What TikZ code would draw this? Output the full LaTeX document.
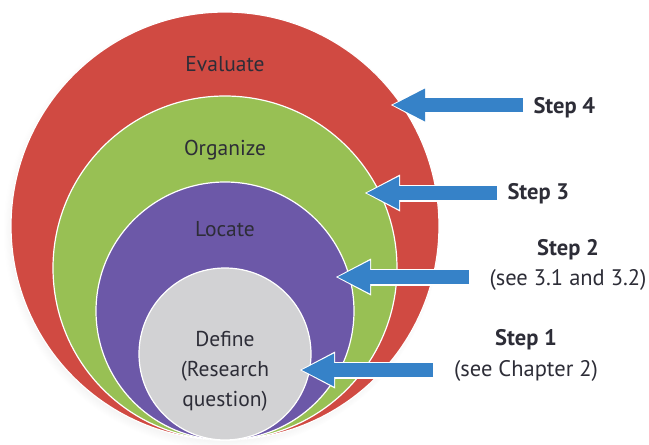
\documentclass[tikz,border=0pt]{standalone}
\usepackage{fontspec}
\setmainfont{PT Sans}
\usetikzlibrary{arrows.meta,shadows}
\tikzset{>=stealth}
\definecolor{evalred}{RGB}{208,74,66}
\definecolor{orggreen}{RGB}{152,192,84}
\definecolor{locpurple}{RGB}{108,88,168}
\definecolor{defgray}{RGB}{210,210,212}
\definecolor{stepblue}{RGB}{54,130,200}
\definecolor{fontdark}{RGB}{45,45,55}

\tikzset{
  ring/.style={circle,draw=white,line width=1.2pt,inner sep=0pt},
  ringtext/.style={anchor=base,text=fontdark,font=\fontsize{21.5}{25}\selectfont},
  steptext/.style={text=fontdark,font=\fontsize{22.5}{26}\selectfont},
  arrowedge/.style={white,line width=17pt,shorten <=-1.5pt,shorten >=-2pt,
    -{Triangle[length=35pt,width=37pt,line width=0pt]}},
  arrowbody/.style={stepblue,line width=14pt,
    -{Triangle[length=32pt,width=33pt,line width=0pt]}}
}

\begin{document}
\begin{tikzpicture}[x=1pt,y=-1pt]
\useasboundingbox (0,0) rectangle (649,445);
% nested circles, all touching at the bottom
\node[ring,fill=evalred,minimum size=428pt,
  circular drop shadow={shadow xshift=-3pt,shadow yshift=-4pt,shadow scale=1.02,opacity=0.3}]
  (evaluate) at (225,226) {};
\node[ring,fill=orggreen,minimum size=344pt] (organize) at (225,268) {};
\node[ring,fill=locpurple,minimum size=258pt] (locate) at (225,311) {};
\node[ring,fill=defgray,minimum size=172pt] (define) at (225,354) {};

\node[ringtext] (evaltext) at (225,71) {Evaluate};
\node[ringtext] (orgtext) at (225,155) {Organize};
\node[ringtext] (loctext) at (225,236) {Locate};
\node[ringtext] (deftext) at (225,346) {Define};
\node[ringtext] (rqtext) at (225,376) {(Research};
\node[ringtext] (qtext) at (225,406) {question)};

% steps
\node[steptext,anchor=base west] (step4) at (530,113) {\textbf{Step 4}};
\node[steptext,anchor=base west] (step3) at (504,199) {\textbf{Step 3}};
\node[steptext,anchor=base] (step2) at (568,255) {\textbf{Step 2}};
\node[steptext,anchor=base] (see2) at (568,285) {(see 3.1 and 3.2)};
\node[steptext,anchor=base] (step1) at (526,345) {\textbf{Step 1}};
\node[steptext,anchor=base] (see1) at (526,376) {(see Chapter 2)};

\coordinate (tail4) at (523,105);
\coordinate (tip4) at (393,105);
\coordinate (tail3) at (497,193);
\coordinate (tip3) at (367,193);
\coordinate (tail2) at (469,277);
\coordinate (tip2) at (338,277);
\coordinate (tail1) at (433,370);
\coordinate (tip1) at (302,370);

\draw[arrowedge] (tail4) -- (tip4);
\draw[arrowbody] (tail4) -- (tip4);
\draw[arrowedge] (tail3) -- (tip3);
\draw[arrowbody] (tail3) -- (tip3);
\draw[arrowedge] (tail2) -- (tip2);
\draw[arrowbody] (tail2) -- (tip2);
\draw[arrowedge] (tail1) -- (tip1);
\draw[arrowbody] (tail1) -- (tip1);
\end{tikzpicture}
\end{document}
